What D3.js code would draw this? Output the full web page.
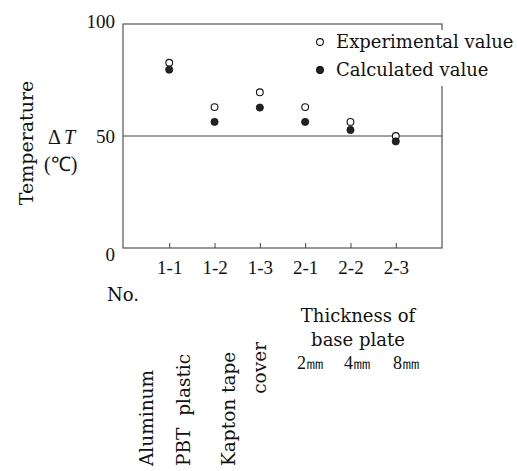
<!DOCTYPE html>
<html>
<head>
<meta charset="utf-8">
<script src="https://cdn.jsdelivr.net/npm/d3@7"></script>
<style>
  body { margin: 0; background: #fff; }
  text { font-family: "Liberation Serif", serif; fill: #111; }
  .word { font-family: "DejaVu Serif", serif; }
</style>
</head>
<body>
<script>
// sizes of the page and of the plot frame
const WIDTH  = 517;
const HEIGHT = 471;
const margin = { left: 123, top: 24, right: 75, bottom: 220 };

// data
const categories   = ['1-1', '1-2', '1-3', '2-1', '2-2', '2-3'];
const experimental = [82.7, 62.9, 69.5, 62.9, 56.3, 50.0];
const calculated   = [79.6, 56.3, 62.7, 56.3, 52.7, 47.6];
const yTicks       = [0, 50, 100];
const legendNames  = ['Experimental value', 'Calculated value'];
const materialLabels = ['Aluminum', 'PBT  plastic', 'Kapton tape', 'cover'];
const thicknessLabels = ['2㎜', '4㎜', '8㎜'];

const plotW = WIDTH - margin.left - margin.right;
const plotH = HEIGHT - margin.top - margin.bottom - 3;

let svg = d3.select('body').append('svg')
    .attr('width', WIDTH)
    .attr('height', HEIGHT)

let g = svg.append('g')
    .attr('transform', `translate(${margin.left},${margin.top})`)

let x = d3.scalePoint().domain(categories).range([0, plotW]).padding(1.02);
let y = d3.scaleLinear().domain([0, 100]).range([plotH, 0]);

// frame
g.append('rect')
    .attr('width', plotW).attr('height', plotH)
    .attr('fill', 'none').attr('stroke', '#444').attr('stroke-width', 1.1)

// line at 50
g.append('line')
    .attr('x1', 0).attr('x2', plotW)
    .attr('y1', y(50)).attr('y2', y(50))
    .attr('stroke', '#444').attr('stroke-width', 1.1)

// axes
let xAxis = g.append('g')
    .attr('transform', `translate(0,${plotH})`)
    .call(d3.axisBottom(x).tickSize(-5).tickPadding(13))
xAxis.select('.domain').remove();
xAxis.selectAll('line').attr('stroke', '#444');
xAxis.selectAll('text').style('font-size', '19px').style('font-family', '"Liberation Serif", serif').attr('fill', '#111');

let yAxis = g.append('g')
    .call(d3.axisLeft(y).tickValues(yTicks).tickSize(0).tickPadding(8))
yAxis.select('.domain').remove();
yAxis.selectAll('text').style('font-size', '19px').style('font-family', '"Liberation Serif", serif').attr('fill', '#111')
    .attr('dy', d => d === 0 ? '0.65em' : (d === 100 ? '0.2em' : '0.32em'));

// points
g.selectAll('.exp').data(experimental).enter().append('circle')
    .attr('cx', (d, i) => x(categories[i]))
    .attr('cy', d => y(d))
    .attr('r', 3.4)
    .attr('fill', '#fff').attr('stroke', '#111').attr('stroke-width', 1.1)

g.selectAll('.calc').data(calculated).enter().append('circle')
    .attr('cx', (d, i) => x(categories[i]))
    .attr('cy', d => y(d))
    .attr('r', 3.6)
    .attr('fill', '#222').attr('stroke', '#111').attr('stroke-width', 0.8)

// legend
svg.append('rect')
    .attr('x', 312).attr('y', 30).attr('width', 205).attr('height', 56)
    .attr('fill', '#fff')
legendNames.forEach((name, i) => {
    let ly = 42 + i * 28;
    svg.append('circle')
        .attr('cx', 320).attr('cy', ly).attr('r', 3.4)
        .attr('fill', i === 0 ? '#fff' : '#222')
        .attr('stroke', '#111').attr('stroke-width', 1.1)
    svg.append('text').attr('class', 'word')
        .attr('x', 336).attr('y', ly).attr('dy', '0.35em')
        .style('font-size', '18px')
        .text(name)
});

// y label
svg.append('text').attr('class', 'word')
    .attr('transform', 'translate(26,143) rotate(-90)')
    .attr('text-anchor', 'middle').attr('dy', '0.35em')
    .style('font-size', '19px')
    .text('Temperature')
let dt = svg.append('text')
    .attr('x', 48).attr('y', 137).attr('dy', '0.35em')
    .style('font-size', '20px')
dt.append('tspan').text('Δ');
dt.append('tspan').attr('dx', 3).style('font-style', 'italic').text('T');
svg.append('text')
    .attr('x', 44).attr('y', 164).attr('dy', '0.35em')
    .style('font-size', '20px')
    .text('(℃)')

svg.append('text').attr('class', 'word')
    .attr('x', 107).attr('y', 295).attr('dy', '0.35em')
    .style('font-size', '18px')
    .text('No.')

// vertical material labels
const matX = [147, 184, 229, 260];
materialLabels.forEach((t, i) => {
    let last = i === 3;
    svg.append('text').attr('class', 'word')
        .attr('transform', `translate(${matX[i]},${last ? 342 : 466}) rotate(-90)`)
        .attr('text-anchor', last ? 'end' : 'start')
        .attr('dy', '0.35em')
        .style('font-size', '18.5px')
        .style('white-space', 'pre')
        .text(t)
});

// thickness of base plate
svg.append('text').attr('class', 'word')
    .attr('x', 358).attr('y', 316).attr('dy', '0.35em')
    .attr('text-anchor', 'middle')
    .style('font-size', '18px')
    .text('Thickness of')
svg.append('text').attr('class', 'word')
    .attr('x', 358).attr('y', 340).attr('dy', '0.35em')
    .attr('text-anchor', 'middle')
    .style('font-size', '18px')
    .text('base plate')
const thickX = [297, 344, 393];
thicknessLabels.forEach((t, i) => {
    svg.append('text')
        .attr('x', thickX[i]).attr('y', 363).attr('dy', '0.35em')
        .style('font-size', '18px')
        .text(t)
});
</script>
</body>
</html>
